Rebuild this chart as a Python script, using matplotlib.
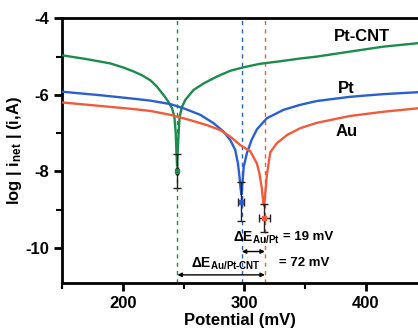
import matplotlib
matplotlib.use("Agg")
import matplotlib.pyplot as plt
from matplotlib.ticker import MultipleLocator

plt.rcParams['font.family'] = ['Liberation Sans', 'DejaVu Sans']
plt.rcParams['font.weight'] = 'bold'
plt.rcParams['mathtext.fontset'] = 'custom'
plt.rcParams['mathtext.rm'] = 'Liberation Sans:bold'
plt.rcParams['mathtext.it'] = 'Liberation Sans:bold'
plt.rcParams['mathtext.bf'] = 'Liberation Sans:bold'
plt.rcParams['axes.unicode_minus'] = False

# ---- data ----
E_ptcnt = [151, 171, 190, 201, 209, 216, 222.8, 228, 233, 236.5, 240.6, 242.5, 243.6, 244.1,
           244.7, 245.3, 246.0, 246.8, 248.8, 251.5, 258.3, 266.6, 277.6, 288.5,
           299.4, 312.6, 330, 346, 359.7, 387, 414.5, 443]
logi_ptcnt = [-4.97, -5.07, -5.18, -5.29, -5.39, -5.49, -5.62, -5.78, -5.98, -6.13, -6.35, -6.57,
              -7.00, -7.44, -7.85, -7.44, -7.00, -6.57, -6.31, -6.13, -5.87, -5.70,
              -5.52, -5.37, -5.28, -5.19, -5.12, -5.05, -5.00, -4.87, -4.74, -4.65]

E_pt = [151, 182, 209, 222.8, 239.2, 250.1, 263.8, 274.8, 283, 288.5, 292.6, 294.8,
        296.1, 297.0, 297.6, 298.2, 299.0, 299.6, 302.2, 306, 310.4, 318.6, 332.3,
        346, 359.7, 387.1, 414.5, 443]
logi_pt = [-5.92, -6.01, -6.10, -6.15, -6.24, -6.35, -6.52, -6.74, -6.96, -7.18,
           -7.44, -7.79, -8.14, -8.45, -8.60, -8.45, -8.10, -7.87, -7.52, -7.18,
           -6.90, -6.61, -6.39, -6.26, -6.16, -6.05, -5.98, -5.93]

E_au = [151, 182, 209, 222.8, 239.2, 255.6, 269.3, 280.3, 288.5, 296.7, 304.9,
        310.4, 312.5, 314.5, 315.6, 316.4, 317.2, 318.6, 321.4, 326.9, 335.1, 346,
        359.7, 387.1, 414.5, 443]
logi_au = [-6.20, -6.29, -6.37, -6.42, -6.52, -6.66, -6.79, -6.92, -7.09, -7.31,
           -7.47, -7.79, -8.05, -8.45, -8.80, -8.90, -8.60, -8.10, -7.50, -7.26,
           -7.05, -6.87, -6.73, -6.55, -6.44, -6.35]

# corrosion potentials (dashed lines) and error-bar points
E_corr = [245, 298, 317]
pt_logi = [-7.98, -8.79, -9.21]
pt_xerr = [1.0, 2.5, 4.5]
pt_yerr = [0.44, 0.51, 0.37]

labels = ['Pt-CNT', 'Pt', 'Au']
colors = ['#1b8c4c', '#2a5fd0', '#f25a3c']

x_ticks = [200, 300, 400]
y_ticks = [-4, -6, -8, -10]

fig = plt.figure(figsize=(4.18, 3.33), dpi=100)
ax = fig.add_axes([62/418, 1 - 283.3/333, 1 - 62/418, (283.3 - 18.3)/333])

for E, li, c in zip([E_ptcnt, E_pt, E_au], [logi_ptcnt, logi_pt, logi_au], colors):
    ax.plot(E, li, color=c, lw=1.7, zorder=3, solid_joinstyle='round')

for e, c in zip(E_corr, colors):
    ax.axvline(e, color=c, lw=1.0, ls=(0, (3, 3)), zorder=2)

for e, y, xe, ye, c in zip(E_corr, pt_logi, pt_xerr, pt_yerr, colors):
    ax.errorbar(e - 0.5, y, xerr=xe, yerr=ye, fmt='s', ms=3.5, mfc=c, mec=c,
                ecolor='#2a1f1f', elinewidth=1.0, capsize=3, capthick=1.0, zorder=4)

# curve labels
ax.text(397, -4.48, labels[0], fontsize=12, fontweight='bold', ha='center', va='center')
ax.text(383.6, -5.83, labels[1], fontsize=12, fontweight='bold', ha='center', va='center')
ax.text(384.4, -6.96, labels[2], fontsize=12, fontweight='bold', ha='center', va='center')

# delta E annotations
ax.text(291.0, -9.72, r'$\Delta$E$_{\mathrm{Au/Pt}}$', fontsize=10, ha='left', va='center')
ax.text(332.0, -9.70, '= 19 mV', fontsize=9.5, fontweight='bold', ha='left', va='center')
ax.text(256.0, -10.42, r'$\Delta$E$_{\mathrm{Au/Pt\text{-}CNT}}$', fontsize=10, ha='left', va='center')
ax.text(329, -10.40, '= 72 mV', fontsize=9.5, fontweight='bold', ha='left', va='center')

ax.annotate('', xy=(E_corr[2], -10.09), xytext=(E_corr[1], -10.09),
            arrowprops=dict(arrowstyle='<|-|>', color='black', lw=1.0,
                            mutation_scale=6, shrinkA=0, shrinkB=0))
ax.annotate('', xy=(E_corr[2], -10.70), xytext=(E_corr[0], -10.70),
            arrowprops=dict(arrowstyle='<|-|>', color='black', lw=1.0,
                            mutation_scale=6, shrinkA=0, shrinkB=0))

ax.set_xlim(150, 443)
ax.set_ylim(-10.92, -4)
ax.set_xticks(x_ticks)
ax.set_yticks(y_ticks)
ax.xaxis.set_minor_locator(MultipleLocator(50))
ax.yaxis.set_minor_locator(MultipleLocator(1))
ax.tick_params(which='major', direction='out', length=6, width=2, labelsize=12)
ax.tick_params(which='minor', direction='out', length=4, width=1.5)
for lab in ax.get_xticklabels() + ax.get_yticklabels():
    lab.set_fontweight('bold')

for s in ['left', 'bottom', 'top']:
    ax.spines[s].set_linewidth(2)
ax.spines['right'].set_visible(False)

ax.set_xlabel('Potential (mV)', fontsize=12, fontweight='bold', labelpad=1)
ax.set_ylabel(r'log | i$_{\mathrm{net}}$ | (i,A)', fontsize=12, fontweight='bold', labelpad=1)

fig.savefig('out.png', dpi=100)
